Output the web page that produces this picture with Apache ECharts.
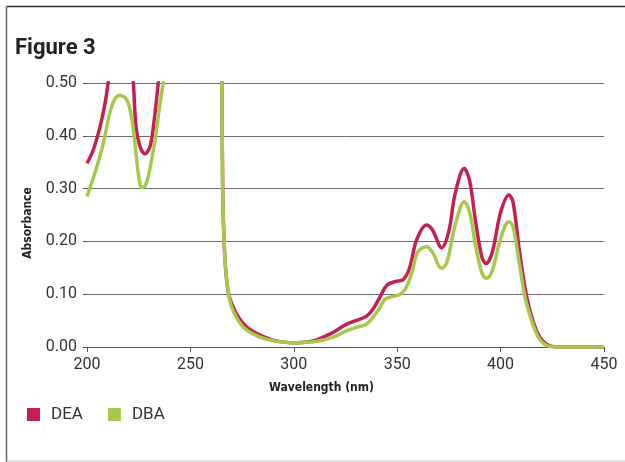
<!DOCTYPE html>
<html><head><meta charset="utf-8">
<script src="https://cdn.jsdelivr.net/npm/echarts@6/dist/echarts.min.js"></script>
<style>html,body{margin:0;padding:0;background:#fff}#c{width:625px;height:462px}</style>
</head><body><div id="c"></div>
<script>
const xTicks = [200, 250, 300, 350, 400, 450];
const yTicks = [0.00, 0.10, 0.20, 0.30, 0.40, 0.50];

const deaWl  = [200,203,206.3,208.7,210.3,211.5, 216,
  221.3,222.4,223.7,225.6,228,230.5,232.5,234.5,235.5, 250,
  265.1,265.6,266.3,267.2,268.5,270,272.4,275,278,284,290,300,305,310,315,320,325,330,335,338,341.7,345,349,353,356,359.4,364.2,367,371.5,375,378,382.4,385,388,391,393,396,400,404,406,409,412.6,416,419,422,425,430,440,450];
const deaAbs = [0.348,0.373,0.417,0.461,0.502,0.54, null,
  0.54,0.50,0.417,0.38,0.366,0.38,0.43,0.502,0.54, null,
  0.6,0.3,0.2,0.14,0.1,0.082,0.062,0.047,0.035,0.022,0.013,0.008,0.009,0.012,0.02,0.03,0.042,0.05,0.058,0.07,0.095,0.117,0.124,0.128,0.15,0.203,0.231,0.222,0.188,0.22,0.29,0.338,0.315,0.235,0.17,0.158,0.18,0.255,0.288,0.275,0.185,0.095,0.045,0.018,0.006,0.001,0,0,0];

const dbaWl  = [200,204.7,207.9,211,213.5,216,218.5,220,221.8,223.2,224.8,226.4,228,229.6,232.9,235.3,236.9,237.8, 250,
  265.1,265.6,266.3,267.2,268.5,270,272.4,275,278,284,290,300,310,315,320,325,330,335,338,341.7,344,347,351,354,357,360,364.2,367,371.5,374,378,382.4,385,388,391,393.2,396,400,404,406,409,411.8,415,418,421,424,430,440,450];
const dbaAbs = [0.285,0.341,0.386,0.443,0.47,0.477,0.472,0.461,0.43,0.386,0.329,0.302,0.305,0.322,0.392,0.461,0.502,0.54, null,
  0.6,0.3,0.2,0.14,0.1,0.075,0.055,0.04,0.03,0.018,0.012,0.008,0.01,0.014,0.02,0.03,0.037,0.043,0.055,0.075,0.09,0.095,0.099,0.11,0.14,0.18,0.19,0.18,0.149,0.16,0.23,0.275,0.255,0.19,0.14,0.13,0.145,0.205,0.237,0.228,0.16,0.095,0.05,0.02,0.006,0.001,0,0,0];

const pairs = (w, a) => w.map((x, i) => [x, a[i]]);
const RED = '#c4214f', GREEN = '#a4c94b';
const numFont = 'Roboto';
const nameFont = "'Liberation Sans Narrow','DejaVu Sans Condensed',sans-serif";

const chart = echarts.init(document.getElementById('c'), null, {renderer: 'canvas'});
chart.setOption({
  animation: false,
  backgroundColor: '#fff',
  title: {text: 'Figure 3', left: 10, top: 32,
    textStyle: {fontFamily: numFont, fontWeight: 'bold', fontSize: 22, color: '#222'}},
  graphic: [
    {type: 'line', shape: {x1: 6.5, y1: 6.5, x2: 625, y2: 6.5}, style: {stroke: '#333', lineWidth: 1.5}},
    {type: 'line', shape: {x1: 6.5, y1: 6.5, x2: 6.5, y2: 462}, style: {stroke: '#666', lineWidth: 1.5}},
    {type: 'line', shape: {x1: 6.5, y1: 461, x2: 625, y2: 461}, style: {stroke: '#ccc', lineWidth: 1}}
  ],
  legend: {left: 22, top: 401, itemWidth: 13, itemHeight: 13, itemGap: 25, icon: 'rect',
    textStyle: {fontFamily: numFont, fontSize: 17, color: '#333', padding: [0, 0, 0, 6]},
    data: ['DEA', 'DBA']},
  grid: {left: 87, right: 21, top: 83, bottom: 115, containLabel: false},
  xAxis: {type: 'value', min: 200, max: 450, interval: 50,
    name: 'Wavelength (nm)', nameLocation: 'middle', nameGap: 35,
    nameTextStyle: {fontFamily: nameFont, fontWeight: 'bold', fontSize: 12, color: '#222', padding: [0, 48, 0, 0]},
    axisLine: {show: true, lineStyle: {color: '#555', width: 1}},
    axisTick: {show: true, length: 5, lineStyle: {color: '#555'}},
    axisLabel: {margin: 10, fontFamily: numFont, fontSize: 16, color: '#333',
      formatter: v => xTicks.includes(v) ? String(v) : ''},
    splitLine: {show: false}},
  yAxis: {type: 'value', min: 0, max: 0.5, interval: 0.1,
    name: 'Absorbance', nameLocation: 'middle', nameGap: 53, nameRotate: 90,
    nameTextStyle: {fontFamily: nameFont, fontWeight: 'bold', fontSize: 12, color: '#222', padding: [0, 16, 0, 0]},
    axisLine: {show: false},
    axisTick: {show: true, length: 4, lineStyle: {color: '#555'}},
    axisLabel: {margin: 10, fontFamily: numFont, fontSize: 16, color: '#333',
      formatter: v => { const t = yTicks.find(k => Math.abs(k - v) < 1e-9); return t === undefined ? '' : t.toFixed(2); }},
    splitLine: {show: true, lineStyle: {color: '#6b6b6b', width: 1}}},
  series: [
    {name: 'DEA', type: 'line', data: pairs(deaWl, deaAbs), smooth: 0.35, showSymbol: false, clip: true,
      connectNulls: false, lineStyle: {color: RED, width: 3.5}, itemStyle: {color: RED}, z: 2},
    {name: 'DBA', type: 'line', data: pairs(dbaWl, dbaAbs), smooth: 0.35, showSymbol: false, clip: true,
      connectNulls: false, lineStyle: {color: GREEN, width: 3.5}, itemStyle: {color: GREEN}, z: 3}
  ]
});
</script></body></html>
